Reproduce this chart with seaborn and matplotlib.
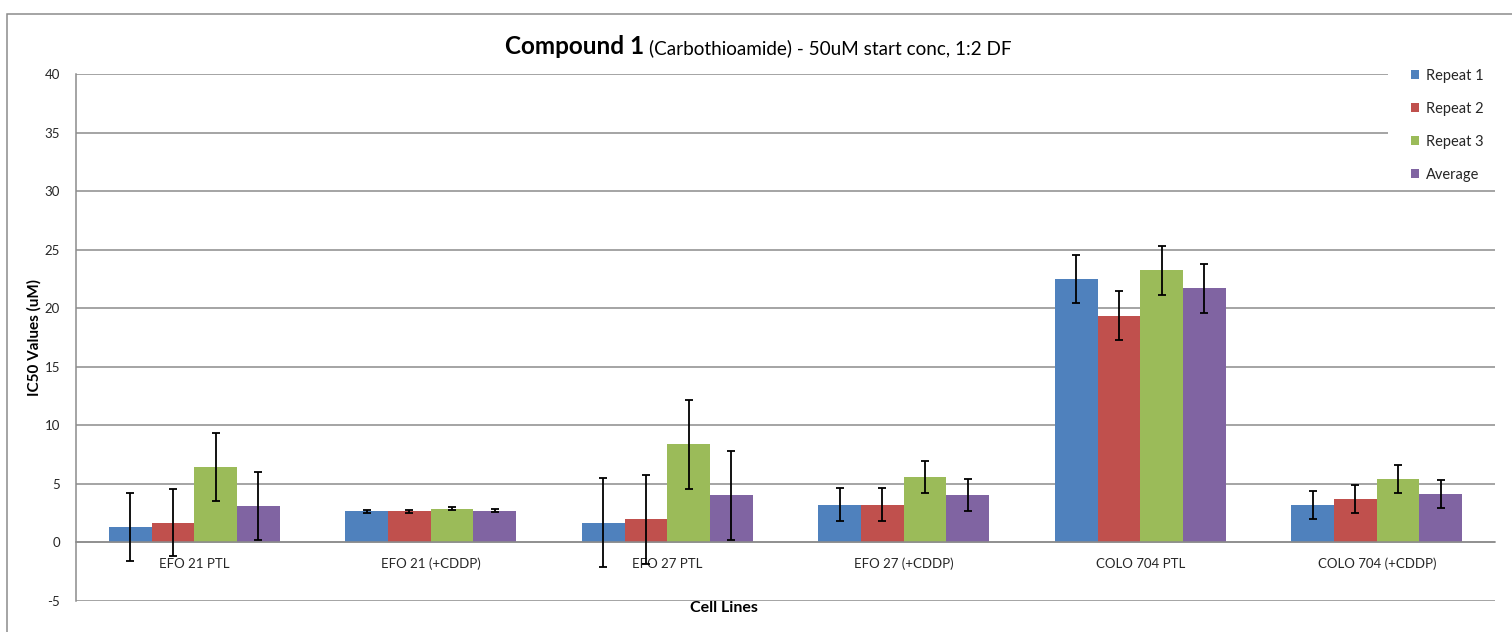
import matplotlib
matplotlib.use("Agg")
import matplotlib.pyplot as plt
import matplotlib.patches as mpatches
import numpy as np
import pandas as pd
import seaborn as sns

# ---- data ----
cell_lines = ["EFO 21 PTL", "EFO 21 (+CDDP)", "EFO 27 PTL", "EFO 27 (+CDDP)",
              "COLO 704 PTL", "COLO 704 (+CDDP)"]
series = ["Repeat 1", "Repeat 2", "Repeat 3", "Average"]
repeat1 = [1.30, 2.65, 1.70, 3.24, 22.49, 3.19]
repeat2 = [1.70, 2.65, 1.96, 3.24, 19.36, 3.70]
repeat3 = [6.46, 2.88, 8.37, 5.61, 23.23, 5.44]
average = [3.13, 2.70, 4.01, 4.07, 21.69, 4.13]
err1 = [2.90, 0.14, 3.80, 1.37, 2.07, 1.20]
err2 = [2.90, 0.14, 3.80, 1.37, 2.10, 1.22]
err3 = [2.90, 0.14, 3.80, 1.38, 2.10, 1.20]
err_avg = [2.90, 0.14, 3.80, 1.36, 2.10, 1.20]
y_ticks = [-5, 0, 5, 10, 15, 20, 25, 30, 35, 40]
colors = ["#4F81BD", "#C0504D", "#9BBB59", "#8064A2"]

values = [repeat1, repeat2, repeat3, average]
errors = [err1, err2, err3, err_avg]
df = pd.DataFrame({
    "Cell Line": [c for _ in series for c in cell_lines],
    "Series": [s for s in series for _ in cell_lines],
    "IC50": [v for vals in values for v in vals],
    "Err": [e for errs in errors for e in errs],
})

sns.set_style("white")
plt.rcParams["font.family"] = ["Lato", "DejaVu Sans"]

W, H = 1512, 632
fig = plt.figure(figsize=(W / 100, H / 100), dpi=100)
ax = fig.add_axes([76 / W, 1 - 601 / H, (1495 - 76) / W, (601 - 74) / H])

sns.barplot(data=df, x="Cell Line", y="IC50", hue="Series", order=cell_lines,
            hue_order=series, palette=colors, errorbar=None, width=0.723,
            saturation=1, ax=ax, legend=True, zorder=3, linewidth=0)

# error bars from bar geometry
for i, s in enumerate(series):
    cont = ax.containers[i]
    xs = [p.get_x() + p.get_width() / 2 for p in cont.patches]
    ax.errorbar(xs, values[i], yerr=errors[i], fmt="none", ecolor="black",
                elinewidth=1.3, capsize=3.2, capthick=1.3, zorder=5)

gray = "#8c8c8c"
ax.set_ylim(-5, 40)
ax.set_xlim(-0.5, len(cell_lines) - 0.5)
ax.set_yticks(y_ticks)
ax.set_yticklabels([str(t) for t in y_ticks])
ax.yaxis.grid(True, color=gray, linewidth=1.1, zorder=0)
ax.set_axisbelow(True)
for sp in ["top", "right"]:
    ax.spines[sp].set_visible(False)
ax.spines["left"].set_color(gray)
ax.spines["left"].set_linewidth(1.1)
ax.spines["bottom"].set_position(("data", 0))
ax.spines["bottom"].set_color(gray)
ax.spines["bottom"].set_linewidth(1.1)
ax.spines["bottom"].set_zorder(4)

ax.set_xticks(np.arange(len(cell_lines)))
ax.set_xticklabels(cell_lines)
ax.set_xticks(np.arange(len(cell_lines) + 1) - 0.5, minor=True)
ax.tick_params(axis="x", which="major", length=0, pad=11, labelsize=9.5,
               labelcolor="#262626")
ax.tick_params(axis="x", which="minor", length=3.5, width=1.1, color=gray,
               direction="out")
ax.tick_params(axis="y", length=3.5, width=1.1, color=gray, direction="out",
               pad=8, labelsize=9.5, labelcolor="#262626")

ax.set_xlabel("Cell Lines", fontsize=11.5, fontweight="bold", color="black")
ax.xaxis.set_label_coords((724 - 76) / (1495 - 76), -0.013)
ax.xaxis.label.set_va("center")
ax.set_ylabel("IC50 Values (uM)", fontsize=11, fontweight="bold",
              color="black", labelpad=2)

# legend area: white block covering the top-right gridlines
fig.patches.append(mpatches.Rectangle((1388 / W, 1 - 185 / H), 1.0,
                                      (185 - 60) / H, transform=fig.transFigure,
                                      facecolor="white", edgecolor="none",
                                      zorder=5))
handles, labels = ax.get_legend_handles_labels()
ax.get_legend().remove()
leg = fig.legend(handles, labels, loc="upper left",
                 bbox_to_anchor=(1411 / W, 1 - 69 / H), frameon=False,
                 fontsize=10.5, handlelength=0.55, handleheight=0.55,
                 handletextpad=0.45, labelspacing=1.3, borderpad=0,
                 borderaxespad=0)
leg.set_zorder(10)

# title (bold part + regular part)
t1 = fig.text(505 / W, 1 - 54 / H, "Compound 1", fontsize=17.5,
              fontweight="bold", ha="left", va="baseline", color="black")
fig.canvas.draw()
bb = t1.get_window_extent()
fig.text((bb.x1 + 5) / W, 1 - 54 / H,
         "(Carbothioamide) - 50uM start conc, 1:2 DF", fontsize=13.6,
         ha="left", va="baseline", color="black")

# outer chart border
fig.patches.append(mpatches.Rectangle((7 / W, -0.2), 1.5, 1 - 14 / H + 0.2,
                                      transform=fig.transFigure, fill=False,
                                      edgecolor=gray, linewidth=1.1, zorder=6))

fig.savefig("out.png", dpi=100, facecolor="white")
